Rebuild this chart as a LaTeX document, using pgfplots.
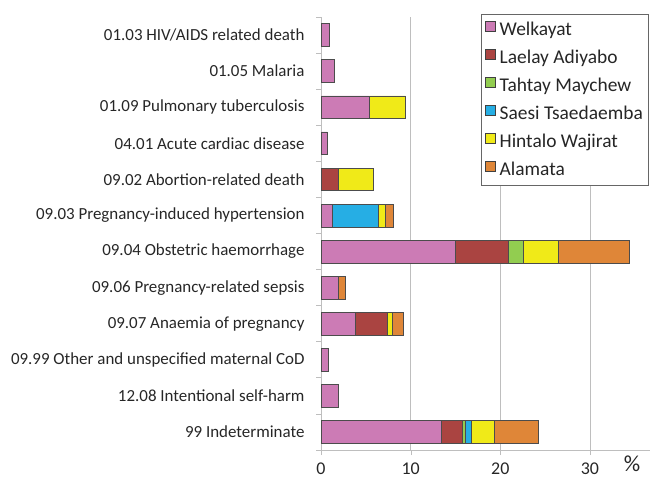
\documentclass[border=0pt]{standalone}
\usepackage{pgfplots}
\pgfplotsset{compat=1.18}
\usepackage{fontspec}
\setmainfont{Carlito}
\definecolor{cW}{RGB}{204,123,181}
\definecolor{cL}{RGB}{170,68,65}
\definecolor{cT}{RGB}{146,205,80}
\definecolor{cS}{RGB}{38,174,228}
\definecolor{cH}{RGB}{240,234,24}
\definecolor{cA}{RGB}{223,134,56}
\definecolor{gridc}{RGB}{190,190,190}
\begin{document}
\begin{tikzpicture}
\useasboundingbox (0,0) rectangle (654bp,479bp);
\begin{axis}[
  at={(321bp,29bp)}, anchor=south west,
  width=329bp, height=433bp, scale only axis,
  xbar stacked, bar width=0.63,
  xmin=0, xmax=36.7,
  ymin=-0.5, ymax=11.5, y dir=reverse,
  ytick={0,...,11},
  yticklabels={01.03 HIV/AIDS related death,01.05 Malaria,01.09 Pulmonary tuberculosis,04.01 Acute cardiac disease,09.02 Abortion-related death,09.03 Pregnancy-induced hypertension,09.04 Obstetric haemorrhage,09.06 Pregnancy-related sepsis,09.07 Anaemia of pregnancy,09.99 Other and unspecified maternal CoD,12.08 Intentional self-harm,99 Indeterminate},
  major y tick style={draw=none},
  minor ytick={-0.5,0.5,...,11.5},
  minor tick length=5bp,
  tick align=outside,
  xtick={0,10,20,30},
  major x tick style={draw=gridc},
  major tick length=5bp,
  xmajorgrids, grid style={gridc, line width=0.8pt},
  axis x line*=bottom, axis y line*=left,
  axis line style={gridc, line width=0.8pt},
  every minor tick/.style={gridc, line width=0.8pt},
  x axis line style={-}, y axis line style={-},
  tick label style={font=\fontsize{17}{19}\selectfont, text=black!85},
  yticklabel style={xshift=-8bp},
  xticklabel style={yshift=-4bp, font=\fontsize{18}{20}\selectfont},
  /pgf/number format/assume math mode=true,
  legend cell align=left,
  legend style={at={(1,1)}, anchor=north east, xshift=-2bp, yshift=3bp,
    draw=black!60, font=\fontsize{19.5}{21}\selectfont, text=black!85,
    row sep=9bp, column sep=2bp, inner xsep=3bp, inner ysep=6bp},
  legend image code/.code={\draw[#1, draw=black!75] (0bp,-2bp) rectangle (10.5bp,8.5bp);},
  every axis plot/.append style={draw=black!70, line width=0.6pt},
  clip=false,
]
\addplot[fill=cW] coordinates {(0.9,0) (1.5,1) (5.4,2) (0.7,3) (0,4) (1.3,5) (15.0,6) (1.9,7) (3.8,8) (0.8,9) (1.9,10) (13.4,11)};
\addplot[fill=cL] coordinates {(0,0) (0,1) (0,2) (0,3) (1.9,4) (0,5) (5.9,6) (0,7) (3.6,8) (0,9) (0,10) (2.4,11)};
\addplot[fill=cT] coordinates {(0,0) (0,1) (0,2) (0,3) (0,4) (0,5) (1.7,6) (0,7) (0,8) (0,9) (0,10) (0.25,11)};
\addplot[fill=cS] coordinates {(0,0) (0,1) (0,2) (0,3) (0,4) (5.1,5) (0,6) (0,7) (0,8) (0,9) (0,10) (0.75,11)};
\addplot[fill=cH] coordinates {(0,0) (0,1) (4.0,2) (0,3) (3.9,4) (0.8,5) (3.9,6) (0,7) (0.6,8) (0,9) (0,10) (2.5,11)};
\addplot[fill=cA] coordinates {(0,0) (0,1) (0,2) (0,3) (0,4) (0.9,5) (7.9,6) (0.85,7) (1.15,8) (0,9) (0,10) (4.9,11)};
\legend{Welkayat,Laelay Adiyabo,Tahtay Maychew,Saesi Tsaedaemba,Hintalo Wajirat,Alamata}
\end{axis}
\node[font=\fontsize{23}{25}\selectfont, text=black!85, inner sep=0pt] at (632bp,15bp) {\%};
\end{tikzpicture}
\end{document}
